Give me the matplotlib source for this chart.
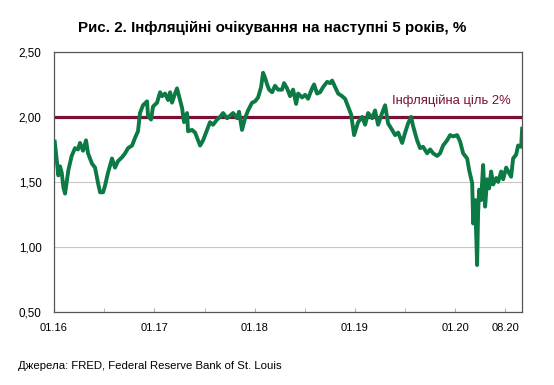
import matplotlib
matplotlib.use("Agg")
import matplotlib.pyplot as plt
from matplotlib.ticker import MultipleLocator

plt.rcParams["font.family"] = ["Liberation Sans", "DejaVu Sans"]

# --- дані: роки від 01.2016, очікувана інфляція (5 років), % ---
t_years = [
    0.007, 0.027, 0.043, 0.060, 0.077, 0.093, 0.110, 0.143, 0.176, 0.209,
    0.239, 0.259, 0.289, 0.319, 0.339, 0.379, 0.409, 0.439, 0.459, 0.489,
    0.508, 0.538, 0.578, 0.608, 0.638, 0.678, 0.708, 0.738, 0.778, 0.808,
    0.837, 0.857, 0.887, 0.927, 0.937, 0.967, 0.987, 1.027, 1.057, 1.077,
    1.107, 1.137, 1.157, 1.176, 1.206, 1.226, 1.256, 1.276, 1.296, 1.326,
    1.336, 1.376, 1.406, 1.436, 1.456, 1.486, 1.525, 1.555, 1.585, 1.625,
    1.655, 1.685, 1.725, 1.755, 1.785, 1.825, 1.844, 1.874, 1.904, 1.934,
    1.974, 2.004, 2.034, 2.064, 2.084, 2.104, 2.124, 2.144, 2.174, 2.203,
    2.233, 2.273, 2.293, 2.323, 2.353, 2.383, 2.413, 2.433, 2.473, 2.503,
    2.532, 2.572, 2.592, 2.622, 2.652, 2.682, 2.722, 2.752, 2.772, 2.802,
    2.832, 2.871, 2.901, 2.931, 2.961, 2.991, 3.031, 3.071, 3.101, 3.131,
    3.171, 3.200, 3.230, 3.270, 3.300, 3.330, 3.370, 3.400, 3.430, 3.470,
    3.500, 3.529, 3.559, 3.579, 3.619, 3.649, 3.679, 3.719, 3.749, 3.779,
    3.819, 3.848, 3.878, 3.918, 3.948, 3.978, 4.018, 4.048, 4.078, 4.118,
    4.138, 4.168, 4.178, 4.198, 4.217, 4.227, 4.237, 4.257, 4.277, 4.297,
    4.317, 4.337, 4.357, 4.377, 4.407, 4.427, 4.457, 4.477, 4.507, 4.527,
    4.556, 4.576, 4.606, 4.626, 4.656, 4.666,
]
expectations = [
    1.81, 1.67, 1.55, 1.62, 1.57, 1.46, 1.41, 1.59, 1.70, 1.76,
    1.75, 1.80, 1.74, 1.82, 1.72, 1.64, 1.61, 1.49, 1.42, 1.42,
    1.47, 1.57, 1.68, 1.61, 1.66, 1.69, 1.72, 1.76, 1.78, 1.84,
    1.89, 2.03, 2.09, 2.12, 2.01, 1.98, 2.08, 2.11, 2.19, 2.16,
    2.18, 2.13, 2.19, 2.11, 2.18, 2.22, 2.13, 2.07, 1.96, 2.03,
    1.89, 1.90, 1.88, 1.82, 1.78, 1.82, 1.90, 1.96, 1.94, 1.98,
    2.00, 2.03, 1.99, 2.01, 2.03, 1.99, 2.04, 1.90, 1.99, 2.05,
    2.11, 2.12, 2.15, 2.23, 2.34, 2.30, 2.25, 2.21, 2.19, 2.24,
    2.21, 2.21, 2.26, 2.22, 2.16, 2.21, 2.10, 2.18, 2.15, 2.17,
    2.14, 2.22, 2.25, 2.18, 2.19, 2.23, 2.27, 2.26, 2.28, 2.23,
    2.18, 2.16, 2.14, 2.08, 2.02, 1.86, 1.96, 2.00, 1.94, 2.03,
    1.99, 2.05, 1.94, 2.03, 2.09, 1.95, 1.90, 1.86, 1.88, 1.80,
    1.88, 1.95, 2.00, 1.93, 1.82, 1.76, 1.77, 1.72, 1.75, 1.72,
    1.70, 1.72, 1.78, 1.82, 1.86, 1.85, 1.86, 1.81, 1.72, 1.68,
    1.59, 1.49, 1.18, 1.36, 0.86, 1.26, 1.44, 1.36, 1.63, 1.31,
    1.52, 1.45, 1.58, 1.48, 1.53, 1.50, 1.58, 1.52, 1.61, 1.58,
    1.54, 1.68, 1.71, 1.78, 1.77, 1.91,
]
target = 2.0
tick_pos = [0, 1, 2, 3, 4, 4.5]
tick_labels = ["01.16", "01.17", "01.18", "01.19", "01.20", "08.20"]

fig = plt.figure(figsize=(5.54, 3.85), dpi=100)
ax = fig.add_axes([0.0975, 0.19, 0.845, 0.675])

ax.axhline(target, color="#7a0f38", lw=2.3, zorder=2)
ax.plot(t_years, expectations, color="#0b7a45", lw=2.8, zorder=3,
        solid_joinstyle="round")
ax.text(3.37, 2.125, "Інфляційна ціль 2%", color="#7a0f38", fontsize=9.4,
        ha="left", va="center", zorder=4)

ax.set_xlim(0, 4.666)
ax.set_ylim(0.5, 2.5)
ax.yaxis.set_major_locator(MultipleLocator(0.5))
ax.yaxis.set_major_formatter(lambda v, p: f"{v:.2f}".replace(".", ","))
ax.grid(axis="y", color="#c8c8c8", lw=0.8, zorder=0)

ax.set_xticks(tick_pos)
ax.set_xticklabels(tick_labels)
ax.set_xticks([0.5, 1.5, 2.5, 3.5], minor=True)
ax.tick_params(axis="x", which="both", direction="in", length=3,
               color="#b0b0b0", labelsize=8, pad=8)
ax.tick_params(axis="y", length=0, labelsize=8.4, pad=9)

for s in ax.spines.values():
    s.set_color("#555555")
    s.set_linewidth(0.9)

fig.text(0.491, 0.927, "Рис. 2. Інфляційні очікування на наступні 5 років, %",
         ha="center", va="center", fontsize=10.9, fontweight="bold")
fig.text(0.032, 0.05, "Джерела: FRED, Federal Reserve Bank of St. Louis",
         ha="left", va="center", fontsize=8.2)

fig.savefig("out.png", dpi=100)
